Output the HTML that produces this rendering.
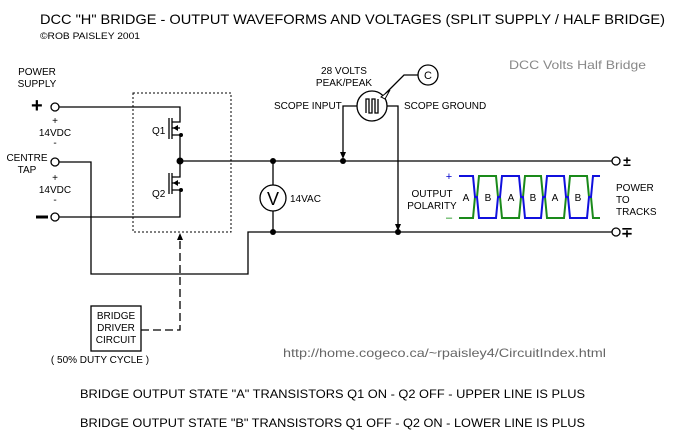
<!DOCTYPE html>
<html><head><style>body{margin:0;background:#fff}svg{display:block}</style></head><body>
<svg width="680" height="442" viewBox="0 0 680 442" xmlns="http://www.w3.org/2000/svg" font-family="Liberation Sans, sans-serif" xml:space="preserve">
<rect width="680" height="442" fill="#fff"/>
<text x="40" y="24" font-size="14" textLength="625" lengthAdjust="spacingAndGlyphs">DCC "H" BRIDGE - OUTPUT WAVEFORMS AND VOLTAGES  (SPLIT SUPPLY / HALF BRIDGE)</text>
<text x="40" y="39" font-size="9" textLength="100" lengthAdjust="spacingAndGlyphs">©ROB PAISLEY 2001</text>
<text x="509" y="69" font-size="12" fill="#888" textLength="137" lengthAdjust="spacingAndGlyphs">DCC Volts Half Bridge</text>
<g font-size="10" text-anchor="middle">
<text x="37" y="75">POWER</text><text x="37" y="87">SUPPLY</text>
<text x="55" y="124">+</text><text x="55" y="136">14VDC</text><text x="55" y="146">-</text>
<text x="27" y="161">CENTRE</text><text x="27" y="173">TAP</text>
<text x="55" y="181">+</text><text x="55" y="193">14VDC</text><text x="55" y="203">-</text>
<text x="344" y="74">28 VOLTS</text><text x="344" y="86">PEAK/PEAK</text>
<text x="432" y="197">OUTPUT</text><text x="432" y="209">POLARITY</text>
</g>
<g font-size="10">
<text x="274" y="109">SCOPE INPUT</text><text x="404" y="109">SCOPE GROUND</text>
<text x="290" y="202">14VAC</text>
<text x="616" y="191">POWER</text><text x="616" y="203">TO</text><text x="616" y="215">TRACKS</text>
<text x="152" y="134">Q1</text><text x="152" y="197">Q2</text>
</g>
<text x="31" y="112" font-size="20" font-weight="bold">+</text>
<line x1="36" y1="217" x2="48" y2="217" stroke="#000" stroke-width="3"/>
<g fill="none" stroke="#000" stroke-width="1.3">
<circle cx="55" cy="107" r="4"/><circle cx="55" cy="162" r="4"/><circle cx="55" cy="217" r="4"/>
<polyline points="59,107 180,107 180,122 172,122"/>
<polyline points="59,217 180,217 180,190 172,190"/>
<polyline points="172,135 180,135 180,177 172,177"/>
<line x1="180" y1="161" x2="612" y2="161"/>
<polyline points="59,162 91,162 91,274 248,274 248,232 612,232"/>
<line x1="169" y1="118" x2="169" y2="139"/><line x1="172" y1="118" x2="172" y2="139"/>
<line x1="169" y1="173" x2="169" y2="194"/><line x1="172" y1="173" x2="172" y2="194"/>
<line x1="172" y1="128" x2="180" y2="128"/><line x1="172" y1="183" x2="180" y2="183"/>
<rect x="133" y="93" width="98" height="139" stroke-dasharray="2,2" stroke-width="1"/>
<line x1="273" y1="161" x2="273" y2="185"/><line x1="273" y1="211" x2="273" y2="232"/>
<circle cx="273" cy="198" r="13"/>
<circle cx="372" cy="106" r="15"/><circle cx="428" cy="75" r="10"/>
<polyline points="357,106 343,106 343,156"/>
<polyline points="387,106 398,106 398,227"/>
<polyline points="418,75 404,75 385,94"/>
<polyline points="366,113 366,99 369,99 369,113 372,113 372,99 375,99 375,113 378,113 378,99"/>
<rect x="91" y="306" width="50" height="45"/>
<polyline points="141,330 180,330 180,240" stroke-dasharray="8,4"/>
<circle cx="616" cy="161" r="4"/><circle cx="616" cy="232" r="4"/>
</g>
<polygon points="381,97 390,90 385,99" fill="#fff" stroke="#000"/>
<g fill="#000">
<circle cx="180" cy="161" r="3.5"/><circle cx="273" cy="161" r="3"/><circle cx="273" cy="232" r="3"/>
<circle cx="343" cy="161" r="3"/><circle cx="398" cy="232" r="3"/>
<circle cx="181" cy="135" r="2"/><circle cx="181" cy="190" r="2"/>
<polygon points="173,128 178,125 178,131"/><polygon points="173,183 178,180 178,186"/>
<polygon points="340,152 346,152 343,159"/><polygon points="395,224 401,224 398,231"/>
<polygon points="177,240 183,240 180,233"/>
</g>
<text x="273" y="205" font-size="18" text-anchor="middle">V</text>
<text x="428" y="79" font-size="11" text-anchor="middle">C</text>
<g font-size="14" text-anchor="middle" font-weight="bold">
<text x="627" y="166">±</text><text x="627" y="237">∓</text>
</g>
<g font-size="10" text-anchor="middle">
<text x="466" y="201">A</text><text x="488" y="201">B</text><text x="511" y="201">A</text><text x="533" y="201">B</text><text x="555" y="201">A</text><text x="578" y="201">B</text>
</g>
<text x="449" y="180" font-size="11" fill="#0000cc" text-anchor="middle">+</text>
<text x="449" y="221" font-size="11" fill="#008800" text-anchor="middle">–</text>
<polyline fill="none" stroke="#1a8a1a" stroke-width="2" points="459,218 473,218 475,197 477,197 479,176 496,176 498,197 500,197 502,218 519,218 521,197 523,197 525,176 541,176 543,197 545,197 547,218 564,218 566,197 568,197 570,176 587,176 589,197 591,197 593,218 600,218"/>
<polyline fill="none" stroke="#1010dd" stroke-width="2" points="459,176 473,176 475,197 477,197 479,218 496,218 498,197 500,197 502,176 519,176 521,197 523,197 525,218 541,218 543,197 545,197 547,176 564,176 566,197 568,197 570,218 587,218 589,197 591,197 593,176 600,176"/>
<g font-size="10" text-anchor="middle">
<text x="116" y="319">BRIDGE</text><text x="116" y="331">DRIVER</text><text x="116" y="343">CIRCUIT</text>
<text x="100" y="363">( 50% DUTY CYCLE )</text>
</g>
<text x="283" y="357" font-size="12" fill="#666" textLength="323" lengthAdjust="spacingAndGlyphs">http://home.cogeco.ca/~rpaisley4/CircuitIndex.html</text>
<text x="80" y="398" font-size="12" textLength="505" lengthAdjust="spacingAndGlyphs">BRIDGE OUTPUT STATE  "A"  TRANSISTORS Q1 ON - Q2 OFF  -  UPPER LINE IS PLUS</text>
<text x="80" y="427" font-size="12" textLength="505" lengthAdjust="spacingAndGlyphs">BRIDGE OUTPUT STATE  "B"  TRANSISTORS Q1 OFF - Q2 ON  -  LOWER LINE IS PLUS</text>
</svg>
</body></html>
